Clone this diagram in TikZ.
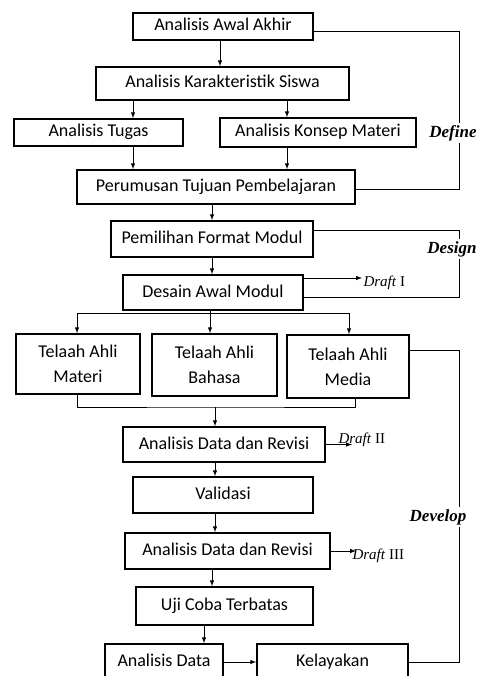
\documentclass[tikz,border=0pt]{standalone}
\usepackage{fontspec}
\setmainfont{Carlito}
\newfontfamily\labelfont{Liberation Serif}
\usetikzlibrary{positioning}
\tikzset{main node/.style={rectangle,draw,line width=1.7pt,inner sep=0pt,align=center,text height=12pt,text depth=3pt,font=\fontsize{18}{25}\selectfont},
  phase/.style={font=\labelfont\bfseries\itshape\fontsize{17}{20}\selectfont,inner sep=2pt},
  draft/.style={font=\labelfont\fontsize{15}{18}\selectfont,inner sep=1pt,anchor=west}}

\begin{document}
\begin{tikzpicture}[x=1pt,y=-1pt,>=latex,line width=1pt]
  \clip (0,0) rectangle (484,676);

  \node[main node,minimum width=180pt,minimum height=27pt] (1) at (223,26.5) {Analisis Awal Akhir};
  \node[main node,minimum width=253pt,minimum height=33pt] (2) at (222.5,83.5) {Analisis Karakteristik Siswa};
  \node[main node,minimum width=169pt,minimum height=27pt] (3) at (98.5,132.5) {Analisis Tugas};
  \node[main node,minimum width=196pt,minimum height=29pt] (4) at (318,132.5) {Analisis Konsep Materi};
  \node[main node,minimum width=278pt,minimum height=34pt] (5) at (216,187) {Perumusan Tujuan Pembelajaran};
  \node[main node,minimum width=202pt,minimum height=36pt] (6) at (212,239) {Pemilihan Format Modul};
  \node[main node,minimum width=180pt,minimum height=35pt] (7) at (213,292.5) {Desain Awal Modul};
  \node[main node,minimum width=124pt,minimum height=60pt,text height=,text depth=] (8) at (78,364) {Telaah Ahli\\Materi};
  \node[main node,minimum width=125pt,minimum height=62pt,text height=,text depth=] (9) at (214.5,365) {Telaah Ahli\\Bahasa};
  \node[main node,minimum width=122pt,minimum height=63pt,text height=,text depth=] (10) at (348,366.5) {Telaah Ahli\\Media};
  \node[main node,minimum width=202pt,minimum height=35pt] (11) at (224,444.5) {Analisis Data dan Revisi};
  \node[main node,minimum width=180pt,minimum height=36pt] (12) at (223,495) {Validasi};
  \node[main node,minimum width=205pt,minimum height=36pt] (13) at (227.5,551) {Analisis Data dan Revisi};
  \node[main node,minimum width=177pt,minimum height=38pt] (14) at (224.5,606) {Uji Coba Terbatas};
  \node[main node,minimum width=118pt,minimum height=36pt] (15) at (164,662) {Analisis Data};
  \node[main node,minimum width=151pt,minimum height=36pt] (16) at (332.5,662) {Kelayakan};

  % phase labels and drafts
  \node[phase] (def) at (453,133) {Define};
  \node[phase] (des) at (452,249) {Design};
  \node[phase] (dev) at (438,517) {Develop};
  \node[draft] (d1) at (362,283) {\textit{Draft} I};
  \node[draft] (d2) at (337,440) {\textit{Draft} II};
  \node[draft] (d3) at (351,556) {\textit{Draft} III};
  \coordinate (side) at (459,0);
  \coordinate (split) at (210,313);
  \coordinate (merge) at (215,407);
  \coordinate (d2tip) at ([xshift=15pt]d2.west);
  \coordinate (d3tip) at ([xshift=5pt]d3.west);

  \draw[->] (1.south -| 220,0) -- (2.north -| 220,0);
  \draw[->] (2.south -| 133,0) -- (3.north -| 133,0);
  \draw[->] (2.south -| 287,0) -- (4.north -| 287,0);
  \draw[->] (3.south -| 133,0) -- (5.north -| 133,0);
  \draw[->] (4.south -| 287,0) -- (5.north -| 287,0);
  \draw[->] (5.south -| 212,0) -- (6.north -| 212,0);
  \draw[->] (6.south -| 212,0) -- (7.north -| 212,0);

  \draw (7.south -| split) -- (split);
  \draw[->] (split) -| (8.north -| 77,0);
  \draw[->] (split) -- (9.north -| split);
  \draw[->] (split) -| (10.north -| 349,0);
  \draw (8.south -| 77,0) |- (merge) -| ([xshift=7pt]10.south);
  \draw[->] (merge) -- (11.north -| merge);

  \draw[->] (11.south -| 215,0) -- (12.north -| 215,0);
  \draw[->] (12.south -| 215,0) -- (13.north -| 215,0);
  \draw[->] (13.south -| 212,0) -- (14.north -| 212,0);
  \draw[->] (14.south -| 204,0) -- (15.north -| 204,0);
  \draw[->] (15) -- (16);

  % Define
  \draw ([yshift=-5pt]1.east) -| (side |- def.north);
  \draw (side |- def.south) |- ([yshift=-3pt]5.east);
  % Design
  \draw ([yshift=9pt]6.east) -| (side |- des.north);
  \draw (side |- des.south) |- ([yshift=-4.5pt]7.east);
  \draw[->] ([yshift=14.5pt]7.east) coordinate (a1) -- (a1 -| d1.west);
  % Develop
  \draw ([yshift=16.5pt]10.east) -| (side |- dev.north);
  \draw (side |- dev.south) |- (16.east);
  \draw[->] (11.east) -- (11.east -| d2tip);
  \draw[->] (13.east) -- (13.east -| d3tip);
\end{tikzpicture}
\end{document}
